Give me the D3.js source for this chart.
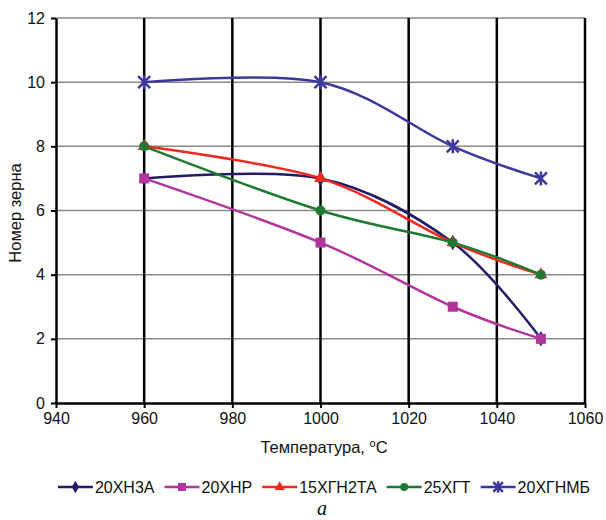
<!DOCTYPE html>
<html>
<head>
<meta charset="utf-8">
<script src="https://cdn.jsdelivr.net/npm/d3@7"></script>
<style>
  body { margin: 0; background: #fff; }
  text { font-family: "Liberation Sans", Arial, sans-serif; fill: #111; }
</style>
</head>
<body>
<svg id="chart"></svg>
<script>
// chart values
const temps = [960, 1000, 1030, 1050];
const seriesNames = ['20ХН3А', '20ХНР', '15ХГН2ТА', '25ХГТ', '20ХГНМБ'];
const v20XN3A = [7, 7, 5, 2];
const v20XNR = [7, 5, 3, 2];
const v15XGN2TA = [8, 7, 5, 4];
const v25XGT = [8, 6, 5, 4];
const v20XGNMB = [10, 10, 8, 7];
const xTicks = [940, 960, 980, 1000, 1020, 1040, 1060];
const yTicks = [0, 2, 4, 6, 8, 10, 12];

const colors = ['#221c66', '#b0369c', '#f2281e', '#1e7a32', '#3b3a9c'];
const shapes = ['diamond', 'square', 'triangle', 'circle', 'star'];
const allValues = [v20XN3A, v20XNR, v15XGN2TA, v25XGT, v20XGNMB];

const series = seriesNames.map((name, i) => ({
    name: name,
    color: colors[i],
    shape: shapes[i],
    points: temps.map((t, j) => ({x: t, y: allValues[i][j]}))
}));

const W = 606, H = 520;
const margin = {top: 18, right: 21, bottom: 117, left: 56};
const width = W - margin.left - margin.right;
const height = H - margin.top - margin.bottom;

const svg = d3.select('#chart').attr('width', W).attr('height', H);
const chart = svg.append('g').attr('transform', `translate(${margin.left},${margin.top})`);

const xScale = d3.scaleLinear().domain([940, 1060]).range([0, width]);
const yScale = d3.scaleLinear().domain([0, 12]).range([height, 0]);

// horizontal grid
chart.selectAll('.hgrid')
    .data(yTicks.filter(d => d > 0))
    .enter().append('line')
    .attr('class', 'hgrid')
    .attr('x1', 0).attr('x2', width)
    .attr('y1', d => yScale(d)).attr('y2', d => yScale(d))
    .attr('stroke', '#8f8783')
    .attr('stroke-width', 1.5);

// vertical grid (black)
chart.selectAll('.vgrid')
    .data(xTicks.filter(d => d > 940))
    .enter().append('line')
    .attr('class', 'vgrid')
    .attr('x1', d => xScale(d)).attr('x2', d => xScale(d))
    .attr('y1', 0).attr('y2', height)
    .attr('stroke', '#000')
    .attr('stroke-width', 2.5);

// axes
const xAxis = d3.axisBottom(xScale).tickValues(xTicks).tickFormat(d3.format('d'))
    .tickSize(5).tickSizeOuter(0).tickPadding(5);
const yAxis = d3.axisLeft(yScale).tickValues(yTicks).tickFormat(d3.format('d'))
    .tickSize(5).tickSizeOuter(0).tickPadding(6);

const xAxisG = chart.append('g')
    .attr('transform', `translate(0,${height})`)
    .call(xAxis);
const yAxisG = chart.append('g').call(yAxis);

[xAxisG, yAxisG].forEach(g => {
    g.select('.domain').attr('stroke', '#000').attr('stroke-width', 2.5);
    g.selectAll('.tick line').attr('stroke', '#000').attr('stroke-width', 2);
    g.selectAll('.tick text')
        .style('font-family', '"Liberation Sans", Arial, sans-serif')
        .style('font-size', '16px')
        .attr('fill', '#222');
});

// lines
const line = d3.line()
    .x(d => xScale(d.x))
    .y(d => yScale(d.y))
    .curve(d3.curveCatmullRom.alpha(0));

chart.selectAll('.series')
    .data(series)
    .enter().append('path')
    .attr('class', 'series')
    .attr('d', d => line(d.points))
    .attr('fill', 'none')
    .attr('stroke', d => d.color)
    .attr('stroke-width', 2.5);

function drawMarker(g, shape, color, x, y, k) {
    k = k || 1;
    if (shape === 'diamond') {
        g.append('path').attr('d', d3.symbol(d3.symbolDiamond, 70 * k * k)())
            .attr('transform', `translate(${x},${y})`).attr('fill', color);
    } else if (shape === 'square') {
        g.append('rect').attr('x', x - 5 * k).attr('y', y - 5 * k)
            .attr('width', 10 * k).attr('height', 10 * k)
            .attr('fill', color);
    } else if (shape === 'triangle') {
        g.append('path').attr('d', d3.symbol(d3.symbolTriangle, 70 * k * k)())
            .attr('transform', `translate(${x},${y})`).attr('fill', color);
    } else if (shape === 'circle') {
        g.append('circle').attr('cx', x).attr('cy', y).attr('r', 5 * k).attr('fill', color);
    } else if (shape === 'star') {
        const r = 6 * k;
        const p = `M${x - r},${y - r}L${x + r},${y + r}M${x - r},${y + r}L${x + r},${y - r}M${x},${y - r - 1}L${x},${y + r + 1}`;
        g.append('path').attr('d', p).attr('stroke', color).attr('stroke-width', 2.5).attr('fill', 'none');
    }
}

series.forEach(s => {
    const g = chart.append('g');
    s.points.forEach(p => drawMarker(g, s.shape, s.color, xScale(p.x), yScale(p.y)));
});

// axis titles
const xTitle = svg.append('text')
    .attr('x', 324).attr('y', 453)
    .attr('text-anchor', 'middle')
    .style('font-size', '16.5px');
xTitle.append('tspan').text('Температура, ');
xTitle.append('tspan').attr('dy', -6).style('font-size', '11px').text('o');
xTitle.append('tspan').attr('dy', 6).text('C');

svg.append('text')
    .attr('transform', 'translate(21,213) rotate(-90)')
    .attr('text-anchor', 'middle')
    .style('font-size', '16.5px')
    .text('Номер зерна');

// legend
const legend = svg.append('g');
let lx = 0;
series.forEach(s => {
    const item = legend.append('g').attr('transform', `translate(${lx},0)`);
    item.append('line').attr('x1', 0).attr('x2', 35).attr('y1', 0).attr('y2', 0)
        .attr('stroke', s.color).attr('stroke-width', 2.5);
    drawMarker(item, s.shape, s.color, 17.5, 0, 0.8);
    const t = item.append('text').attr('x', 37).attr('y', 6)
        .style('font-size', '16px').text(s.name);
    lx += 37 + t.node().getComputedTextLength() + 10;
});
legend.attr('transform', `translate(${324 - (lx - 10) / 2},487)`);

// caption
svg.append('text')
    .attr('x', 322).attr('y', 515)
    .attr('text-anchor', 'middle')
    .style('font-family', '"Liberation Serif", "DejaVu Serif", serif')
    .style('font-style', 'italic')
    .style('font-size', '20px')
    .text('a');
</script>
</body>
</html>
